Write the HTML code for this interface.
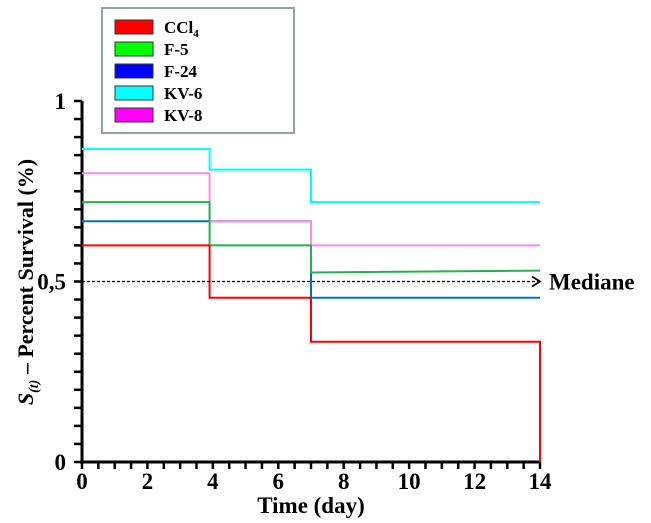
<!DOCTYPE html>
<html><head><meta charset="utf-8"><style>
html,body{margin:0;padding:0;background:#fff;}
svg{display:block;font-family:"Liberation Serif",serif;font-weight:bold;}
</style></head><body>
<svg id="chart" width="651" height="523" viewBox="0 0 651 523">
<g id="axes"></g>
<g id="series"></g>
<g id="legend"></g>
</svg>
<script>
const seriesNames = ["CCl4","F-5","F-24","KV-6","KV-8"];
const seriesColors = ["#ff0000","#22b24c","#0070c0","#00ffff","#ff88ee"];
const legendColors = ["#ff0000","#00ff00","#0000ff","#00ffff","#ff00ff"];
const stepTimes = [0, 3.9, 7, 14];
const ccl4Values = [0.6, 0.455, 0.333, 0];
const f5Values = [0.72, 0.6, 0.525, 0.53];
const f24Values = [0.667, 0.667, 0.455, 0.455];
const kv6Values = [0.867, 0.81, 0.72, 0.72];
const kv8Values = [0.8, 0.667, 0.6, 0.6];
const medianValue = 0.5;
const xTickLabels = [0,2,4,6,8,10,12,14];
const yTickLabels = [[0,"0"],[0.5,"0,5"],[1,"1"]];

const NS="http://www.w3.org/2000/svg";
const X0=82, X1=540, Y0=462, Y1=101;
const xs=v=>X0+(v/14)*(X1-X0);
const ys=v=>Y0-v*(Y0-Y1);
function mk(tag,attrs,parent){const e=document.createElementNS(NS,tag);for(const k in attrs)e.setAttribute(k,attrs[k]);parent.appendChild(e);return e;}
const axes=document.getElementById('axes'), ser=document.getElementById('series'), leg=document.getElementById('legend');

let yAxis=mk('line',{x1:X0,y1:Y1,x2:X0,y2:Y0+2,stroke:'#000','stroke-width':3},axes);


for(let i=0;i<=20;i++){
  let t=mk('line',{x1:X0-8,y1:ys(i*0.05),x2:X0,y2:ys(i*0.05),stroke:'#000','stroke-width':2.5},axes);
  
  
}
yTickLabels.forEach(([v,s])=>{
  let t=mk('text',{x:X0-16,y:ys(v)+8,'text-anchor':'end','font-size':23},axes);t.textContent=s;
  
  
});
let xAxis=mk('line',{x1:X0-2,y1:Y0,x2:X1+1,y2:Y0,stroke:'#000','stroke-width':3},axes);


for(let i=0;i<=28;i++){
  let t=mk('line',{x1:xs(i*0.5),y1:Y0,x2:xs(i*0.5),y2:Y0+7,stroke:'#000','stroke-width':2.5},axes);
  
  
}
xTickLabels.forEach(v=>{
  let t=mk('text',{x:xs(v),y:489,'text-anchor':'middle','font-size':23},axes);t.textContent=v;
  
  
});
let xt=mk('text',{x:311,y:513,'text-anchor':'middle','font-size':23},axes);xt.textContent="Time (day)";


let yt=mk('text',{x:0,y:0,'text-anchor':'middle','font-size':22,transform:'translate(33,282) rotate(-90)'},axes);
yt.innerHTML='<tspan font-style="italic">S</tspan><tspan font-style="italic" font-size="14" dy="5">(t)</tspan><tspan dy="-5"> – Percent Survival (%)</tspan>';



const allValues=[ccl4Values,f5Values,f24Values,kv6Values,kv8Values];
const drawOrder=[3,2,4,1,0];
drawOrder.forEach(si=>{
  const vals=allValues[si];
  let d=`M${xs(stepTimes[0])},${ys(vals[0])}`;
  for(let i=1;i<stepTimes.length;i++){
    if(i===stepTimes.length-1){
      d+=` L${xs(stepTimes[i])},${ys(si===1?vals[i]:vals[i-1])}`;
      if(vals[i]!==vals[i-1] && si!==1) d+=` L${xs(stepTimes[i])},${ys(vals[i])}`;
    } else {
      d+=` L${xs(stepTimes[i])},${ys(vals[i-1])} L${xs(stepTimes[i])},${ys(vals[i])}`;
    }
  }
  let p=mk('path',{d:d,fill:'none',stroke:seriesColors[si],'stroke-width':2},ser);
  
  
});
let ml=mk('line',{x1:xs(0),y1:ys(medianValue),x2:xs(14)-2,y2:ys(medianValue),stroke:'#000','stroke-width':1.3,'stroke-dasharray':'3,2'},ser);


let ma=mk('path',{d:`M${xs(14)-8},${ys(medianValue)-5} L${xs(14)},${ys(medianValue)} L${xs(14)-8},${ys(medianValue)+5}`,fill:'none',stroke:'#000','stroke-width':1.8},ser);


let mt=mk('text',{x:549,y:ys(medianValue)+8,'font-size':23},ser);mt.textContent="Mediane";



let lb=mk('rect',{x:102,y:8,width:192,height:125,fill:'#fff',stroke:'#8fa5a5','stroke-width':2},leg);


seriesNames.forEach((n,i)=>{
  const cy=27+i*22;
  let r=mk('rect',{x:115,y:cy-7,width:38,height:14,fill:legendColors[i],stroke:'#333','stroke-width':1},leg);
  
  
  let t=mk('text',{x:164,y:cy+6,'font-size':17},leg);
  if(n==="CCl4") t.innerHTML='CCl<tspan font-size="11" dy="4">4</tspan>'; else t.textContent=n;
  
  
});
</script>
</body></html>
